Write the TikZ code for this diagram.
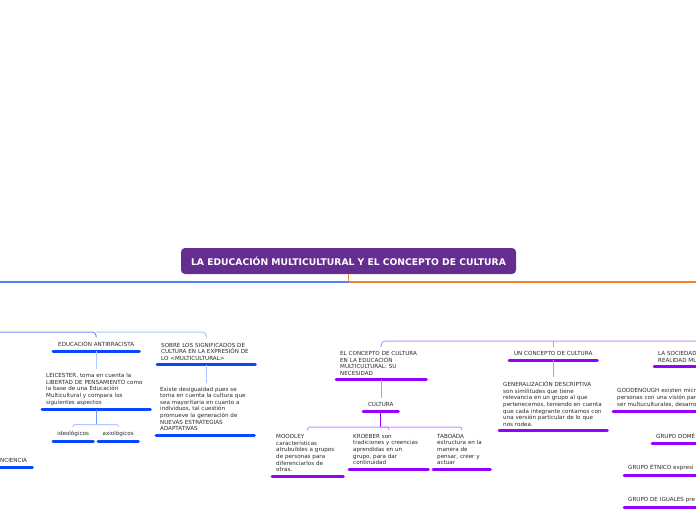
\documentclass[tikz,border=0pt]{standalone}
\usepackage{fontspec}
\setmainfont{DejaVu Sans}
\usetikzlibrary{positioning}
\definecolor{titlepurple}{RGB}{102,45,145}
\definecolor{mainblue}{RGB}{80,130,255}
\definecolor{mainorange}{RGB}{245,130,50}
\definecolor{ublue}{RGB}{10,70,255}
\definecolor{linkblue}{RGB}{110,150,255}
\definecolor{paleblue}{RGB}{175,200,255}
\definecolor{upurple}{RGB}{150,0,255}
\definecolor{linkpurple}{RGB}{205,140,255}
\definecolor{textgrey}{RGB}{40,40,40}

\begin{document}
\begin{tikzpicture}[x=1pt, y=-1pt,
    title/.style={fill=titlepurple, text=white, rounded corners=4pt,
        minimum width=335pt, minimum height=26pt,
        font=\fontsize{9.2}{10}\selectfont\bfseries},
    topic/.style={inner xsep=4pt, inner ysep=4pt, text=textgrey,
        font=\fontsize{5.6}{6.6}\selectfont, align=left, anchor=south west},
    bluetopic/.style={topic, append after command={(\tikzlastnode.south west)
        edge[draw=ublue, line width=3pt, line cap=round] (\tikzlastnode.south east)}},
    purpletopic/.style={topic, append after command={(\tikzlastnode.south west)
        edge[draw=upurple, line width=3pt, line cap=round] (\tikzlastnode.south east)}},
    mainline/.style={line width=1.4pt},
    link/.style={draw=linkblue, line width=1pt},
    palelink/.style={draw=paleblue, line width=1pt},
    plink/.style={draw=linkpurple, line width=1pt},
    pdark/.style={draw=upurple, line width=1pt}
]
\useasboundingbox (0,0) rectangle (696,520);
\clip (0,0) rectangle (696,520);

\node[title] (title) at (348.5,261) {LA EDUCACIÓN MULTICULTURAL Y EL CONCEPTO DE CULTURA};

% left side
\node[bluetopic, align=center, text width=78pt] (antirr) at (53,351) {EDUCACIÓN ANTIRRACISTA};
\node[bluetopic, text width=100pt] (leicester) at (42,409.5) {LEICESTER, toma en cuenta la\\LIBERTAD DE PENSAMIENTO como\\la base de una Educación\\Multicultural y compara los\\siguientes aspectos};
\node[bluetopic, align=center, text width=32pt] (ideol) at (53,441) {ideológicos};
\node[bluetopic, align=center, text width=32pt] (axiol) at (98,441) {axiológicos};
\node[bluetopic, text width=28pt] (concien) at (-4,467) {NCIENCIA};
\node[bluetopic, text width=90pt] (sobre) at (157,364.5) {SOBRE LOS SIGNIFICADOS DE\\CULTURA EN LA EXPRESIÓN DE\\LO <MULTICULTURAL>};
\node[bluetopic, text width=90pt] (existe) at (156,435) {Existe desigualdad pues se\\toma en cuenta la cultura que\\sea mayoritaria en cuanto a\\individuos, tal cuestión\\promueve la generación de\\NUEVAS ESTRATEGIAS\\ADAPTATIVAS};

% right side
\node[purpletopic, text width=82pt] (concepto) at (336,379.5) {EL CONCEPTO DE CULTURA\\EN LA EDUCACIÓN\\MULTICULTURAL: SU\\NECESIDAD};
\node[purpletopic, align=center, text width=27pt] (cultura) at (363,411) {CULTURA};
\node[purpletopic, text width=63pt] (moodley) at (272,476) {MOODLEY\\características\\atrubuibles a grupos\\de personas para\\diferenciarlos de\\otras.};
\node[purpletopic, text width=71pt] (kroeber) at (349,469) {KROEBER son\\tradiciones y creencias\\aprendidas  en un\\grupo, para dar\\continuidad};
\node[purpletopic, text width=49pt] (taboada) at (433,469) {TABOADA\\estructura en la\\manera de\\pensar, creer y\\actuar};
\node[purpletopic, align=center, text width=80pt] (uncon) at (509,360) {UN CONCEPTO DE CULTURA};
\node[purpletopic, text width=100pt] (gener) at (499,430.5) {GENERALIZACIÓN DESCRIPTIVA\\son similitudes que tiene\\relevancia en un grupo al que\\pertenecemos, teniendo en cuenta\\que cada integrante contamos con\\una versión particular de lo que\\nos rodea.};
\node[purpletopic, text width=60pt] (lasoc) at (654,366.5) {LA SOCIEDAD\\REALIDAD MU};
\node[purpletopic, text width=140pt] (goodenough) at (613,411) {GOODENOUGH existen micro\\personas con una visión par\\ser multuculturales, desarro};
\node[purpletopic, text width=60pt] (grupodom) at (652,443) {GRUPO DOMÉ};
\node[purpletopic, text width=100pt] (etnico) at (624,475) {GRUPO ÉTNICO expresi};
\node[purpletopic, text width=100pt] (iguales) at (624,507) {GRUPO DE IGUALES pre};

% main connectors
\coordinate (bleft) at (0,282);
\coordinate (oright) at (696,282);
\draw[mainline, mainorange] (title.south) |- (oright);
\draw[mainline, mainblue] (title.south |- bleft) -- (bleft);

% left branch
\coordinate (lbranch) at (0,332);
\draw[link, rounded corners=4pt] (lbranch) -| (antirr.north);
\draw[palelink, rounded corners=4pt] (antirr.north |- lbranch) -| (sobre.north);
\draw[palelink] (antirr.south) -- (leicester.north);
\draw[link] (leicester.south) -- ++(0,15) coordinate (lfork);
\draw[palelink, rounded corners=2pt] (lfork) -| (ideol.north);
\draw[palelink, rounded corners=2pt] (lfork) -| (axiol.north);
\draw[palelink] (sobre.south) -- (sobre.south |- existe.north);

% right branch
\coordinate (rbranch) at (696,341);
\draw[plink, rounded corners=4pt] (concepto.north) |- (rbranch);
\draw[plink] (uncon.north) -- (uncon.north |- rbranch);
\draw[plink] (concepto.south) -- (concepto.south |- cultura.north);
\draw[pdark] (cultura.south) -- ++(0,16) coordinate (cfork);
\draw[plink, rounded corners=2pt] (cfork) -| (moodley.north);
\draw[plink, rounded corners=2pt] (cfork) -| (kroeber.north);
\draw[plink, rounded corners=2pt] (cfork) -| (taboada.north);
\draw[plink] (uncon.south) -- (uncon.south |- gener.north);
\end{tikzpicture}
\end{document}
